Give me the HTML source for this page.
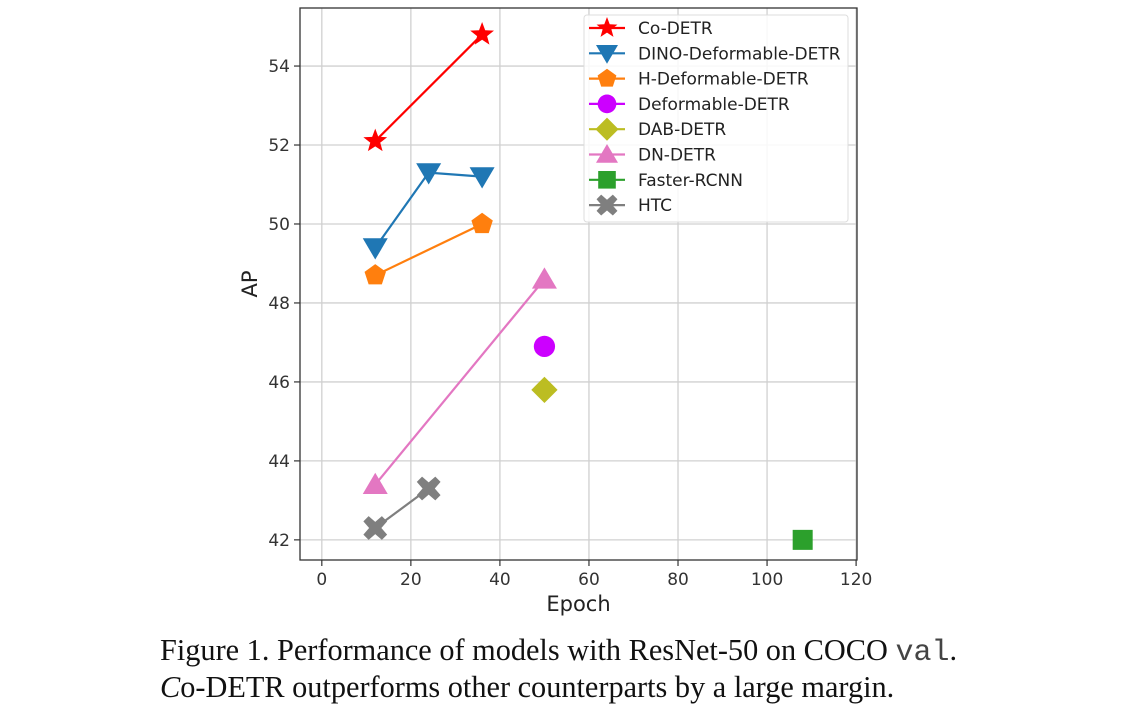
<!DOCTYPE html>
<html><head><meta charset="utf-8"><style>
body{margin:0;background:#fff;width:1124px;height:707px;overflow:hidden;position:relative}
svg text{font-family:"DejaVu Sans","Liberation Sans",sans-serif}
.cap{position:absolute;left:160px;font-family:"Liberation Serif",serif;font-size:30.3px;line-height:36px;color:#111;white-space:nowrap}
.mono{font-family:"Liberation Mono",monospace;font-size:30px;color:#444}
</style></head><body>
<svg id="chart" width="1124" height="630" style="position:absolute;left:0;top:0"></svg>
<div class="cap" style="top:632px">Figure 1. Performance of models with ResNet-50 on COCO <span class="mono">val</span>.</div>
<div class="cap" style="top:669px"><i>C</i>o-DETR outperforms other counterparts by a large margin.</div>
<script>
const seriesNames=["Co-DETR","DINO-Deformable-DETR","H-Deformable-DETR","Deformable-DETR","DAB-DETR","DN-DETR","Faster-RCNN","HTC"];
const seriesEpochs=[[12,36],[12,24,36],[12,36],[50],[50],[12,50],[108],[12,24]];
const seriesAP=[[52.1,54.8],[49.4,51.3,51.2],[48.7,50.0],[46.9],[45.8],[43.4,48.6],[42.0],[42.3,43.3]];
const seriesColors=["#ff0000","#1f77b4","#ff7f0e","#cc00ff","#bcbd22","#e377c2","#2ca02c","#7f7f7f"];
const seriesMarkers=["star","tri-down","pentagon","circle","diamond","tri-up","square","x"];
const xTicks=[0,20,40,60,80,100,120];
const yTicks=[42,44,46,48,50,52,54];

const NS="http://www.w3.org/2000/svg";
const svg=document.getElementById('chart');
const L=300,R=857,T=8,B=560,xmin=-4.9,xmax=120.2,ymin=41.49,ymax=55.47;
const sx=v=>L+(v-xmin)/(xmax-xmin)*(R-L);
const sy=v=>B-(v-ymin)/(ymax-ymin)*(B-T);
function mk(tag,a,p){const e=document.createElementNS(NS,tag);for(const k in a)e.setAttribute(k,a[k]);(p||svg).appendChild(e);return e;}
function marker(type,cx,cy,s,color,p){
  let pts=[];
  if(type==='circle') return mk('circle',{cx,cy,r:s*0.85,fill:color},p);
  if(type==='square') return mk('rect',{x:cx-s*0.8,y:cy-s*0.8,width:s*1.6,height:s*1.6,fill:color},p);
  if(type==='star'){for(let i=0;i<10;i++){const r=i%2?s*0.42:s;const a=-Math.PI/2+i*Math.PI/5;pts.push([cx+r*Math.cos(a),cy+r*Math.sin(a)]);}}
  if(type==='pentagon'){for(let i=0;i<5;i++){const a=-Math.PI/2+i*2*Math.PI/5;pts.push([cx+s*0.9*Math.cos(a),cy+s*0.9*Math.sin(a)]);}}
  if(type==='tri-down')pts=[[cx-s,cy-s*0.75],[cx+s,cy-s*0.75],[cx,cy+s*0.95]];
  if(type==='tri-up')pts=[[cx-s,cy+s*0.75],[cx+s,cy+s*0.75],[cx,cy-s*0.95]];
  if(type==='diamond')pts=[[cx,cy-s*1.05],[cx+s*1.05,cy],[cx,cy+s*1.05],[cx-s*1.05,cy]];
  if(type==='x'){const a=s*0.95,b=s*0.35;pts=[[-a,-a+b*1.2],[-a+b*1.2,-a],[0,-b*1.4],[a-b*1.2,-a],[a,-a+b*1.2],[b*1.4,0],[a,a-b*1.2],[a-b*1.2,a],[0,b*1.4],[-a+b*1.2,a],[-a,a-b*1.2],[-b*1.4,0]].map(q=>[cx+q[0],cy+q[1]]);}
  return mk('polygon',{points:pts.map(q=>q.join(',')).join(' '),fill:color},p);
}
const grid=mk('g',{});
xTicks.forEach(t=>{const x=sx(t);
  mk('line',{x1:x,x2:x,y1:T,y2:B,stroke:'#d0d0d0','stroke-width':1.3},grid);
  mk('line',{x1:x,x2:x,y1:B,y2:B+6,stroke:'#333','stroke-width':1.2});
  const tx=mk('text',{x:x,y:B+25,'text-anchor':'middle','font-size':17,fill:'#333'});tx.textContent=t;
  
  
});
yTicks.forEach(t=>{const y=sy(t);
  mk('line',{x1:L,x2:R,y1:y,y2:y,stroke:'#d0d0d0','stroke-width':1.3},grid);
  mk('line',{x1:L-6,x2:L,y1:y,y2:y,stroke:'#333','stroke-width':1.2});
  const tx=mk('text',{x:L-10,y:y+6,'text-anchor':'end','font-size':17,fill:'#333'});tx.textContent=t;
  
  
});
const frame=mk('rect',{x:L,y:T,width:R-L,height:B-T,fill:'none',stroke:'#333','stroke-width':1.3});


const xl=mk('text',{x:(L+R)/2,y:611,'text-anchor':'middle','font-size':21,fill:'#222'});xl.textContent='Epoch';


const yl=mk('text',{x:0,y:0,'text-anchor':'middle','font-size':21,fill:'#222',transform:`translate(257,${(T+B)/2}) rotate(-90)`});yl.textContent='AP';


seriesNames.forEach((n,i)=>{
  const g=mk('g',{});
  
  
  const pts=seriesEpochs[i].map((e,j)=>[sx(e),sy(seriesAP[i][j])]);
  if(pts.length>1)mk('polyline',{points:pts.map(p=>p.join(',')).join(' '),fill:'none',stroke:seriesColors[i],'stroke-width':2.2},g);
  pts.forEach(p=>{const m=marker(seriesMarkers[i],p[0],p[1],12.5,seriesColors[i],g);
    
    });
});
const lg=mk('g',{});


mk('rect',{x:584,y:15,width:264,height:207,rx:3,fill:'#fff','fill-opacity':0.85,stroke:'#ddd'},lg);
seriesNames.forEach((n,i)=>{
  const y=28+i*25.3;
  const e=mk('g',{},lg);
  
  
  mk('line',{x1:589,x2:625,y1:y,y2:y,stroke:seriesColors[i],'stroke-width':2.2},e);
  marker(seriesMarkers[i],607,y,11,seriesColors[i],e);
  const t=mk('text',{x:638,y:y+6,'font-size':17,fill:'#222'},e);t.textContent=n;
});
</script>
</body></html>
